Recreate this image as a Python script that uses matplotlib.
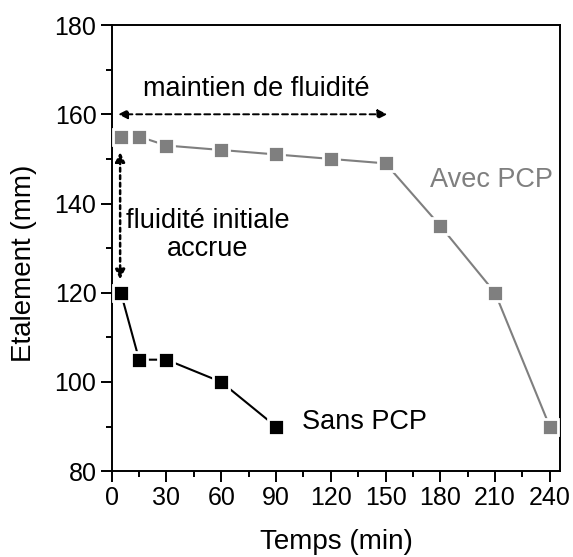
import matplotlib
matplotlib.use("Agg")
import matplotlib.pyplot as plt
from matplotlib.ticker import MultipleLocator

plt.rcParams['font.family'] = ['Liberation Sans', 'DejaVu Sans']

t_avec = [5, 15, 30, 60, 90, 120, 150, 180, 210, 240]
avec_pcp = [155, 155, 153, 152, 151, 150, 149, 135, 120, 90]
t_sans = [5, 15, 30, 60, 90]
sans_pcp = [120, 105, 105, 100, 90]
x_ticks = [0, 30, 60, 90, 120, 150, 180, 210, 240]
y_ticks = [80, 100, 120, 140, 160, 180]

W, H = 573, 557
grey = '#7f7f7f'
fig = plt.figure(figsize=(W / 100, H / 100), dpi=100)
ax = fig.add_axes([0.195, 0.154, 0.782, 0.801])

ax.plot(t_avec, avec_pcp, color=grey, lw=1.5, marker='s', ms=11,
        mfc=grey, mec='white', mew=2, zorder=3)
ax.plot(t_sans, sans_pcp, color='black', lw=1.5, marker='s', ms=11,
        mfc='black', mec='white', mew=2, zorder=3)

ax.set_xlim(0, 245.5)
ax.set_ylim(80, 180)
ax.set_xticks(x_ticks)
ax.set_yticks(y_ticks)
ax.xaxis.set_minor_locator(MultipleLocator(15))
ax.yaxis.set_minor_locator(MultipleLocator(10))
ax.tick_params(which='major', direction='out', length=8, width=1.4, labelsize=18,
               top=False, right=False, pad=3)
ax.tick_params(which='minor', direction='out', length=4, width=1.4,
               top=False, right=False)
for s in ax.spines.values():
    s.set_linewidth(1.4)

fig.text(336 / W, 8 / H, 'Temps (min)', fontsize=20, ha='center', va='baseline')
fig.text(24 / W, 1 - 263.5 / H, 'Etalement (mm)', fontsize=20, ha='center',
         va='center', rotation=90)

# annotations
ax.annotate('', xy=(3.5, 160), xytext=(151, 160),
            arrowprops=dict(arrowstyle='<|-|>', linestyle=(0, (3, 2)), lw=1.4,
                            color='black', mutation_scale=14, shrinkA=0, shrinkB=0))
ax.annotate('', xy=(4.6, 151.5), xytext=(4.6, 123),
            arrowprops=dict(arrowstyle='<|-|>', linestyle=(0, (1.5, 1.5)), lw=1.8,
                            color='black', mutation_scale=14, shrinkA=0, shrinkB=0))
ax.text(17, 164, 'maintien de fluidité', fontsize=19.5, ha='left', va='baseline')
ax.text(52.8, 128.3, 'fluidité initiale\naccrue', fontsize=19.5, ha='center',
        va='baseline', linespacing=1.1, multialignment='center')
ax.text(174.5, 143.6, 'Avec PCP', fontsize=19.5, color=grey, ha='left', va='baseline')
ax.text(104, 89.4, 'Sans PCP', fontsize=19.5, color='black', ha='left', va='baseline')

fig.savefig('out.png', dpi=100)
